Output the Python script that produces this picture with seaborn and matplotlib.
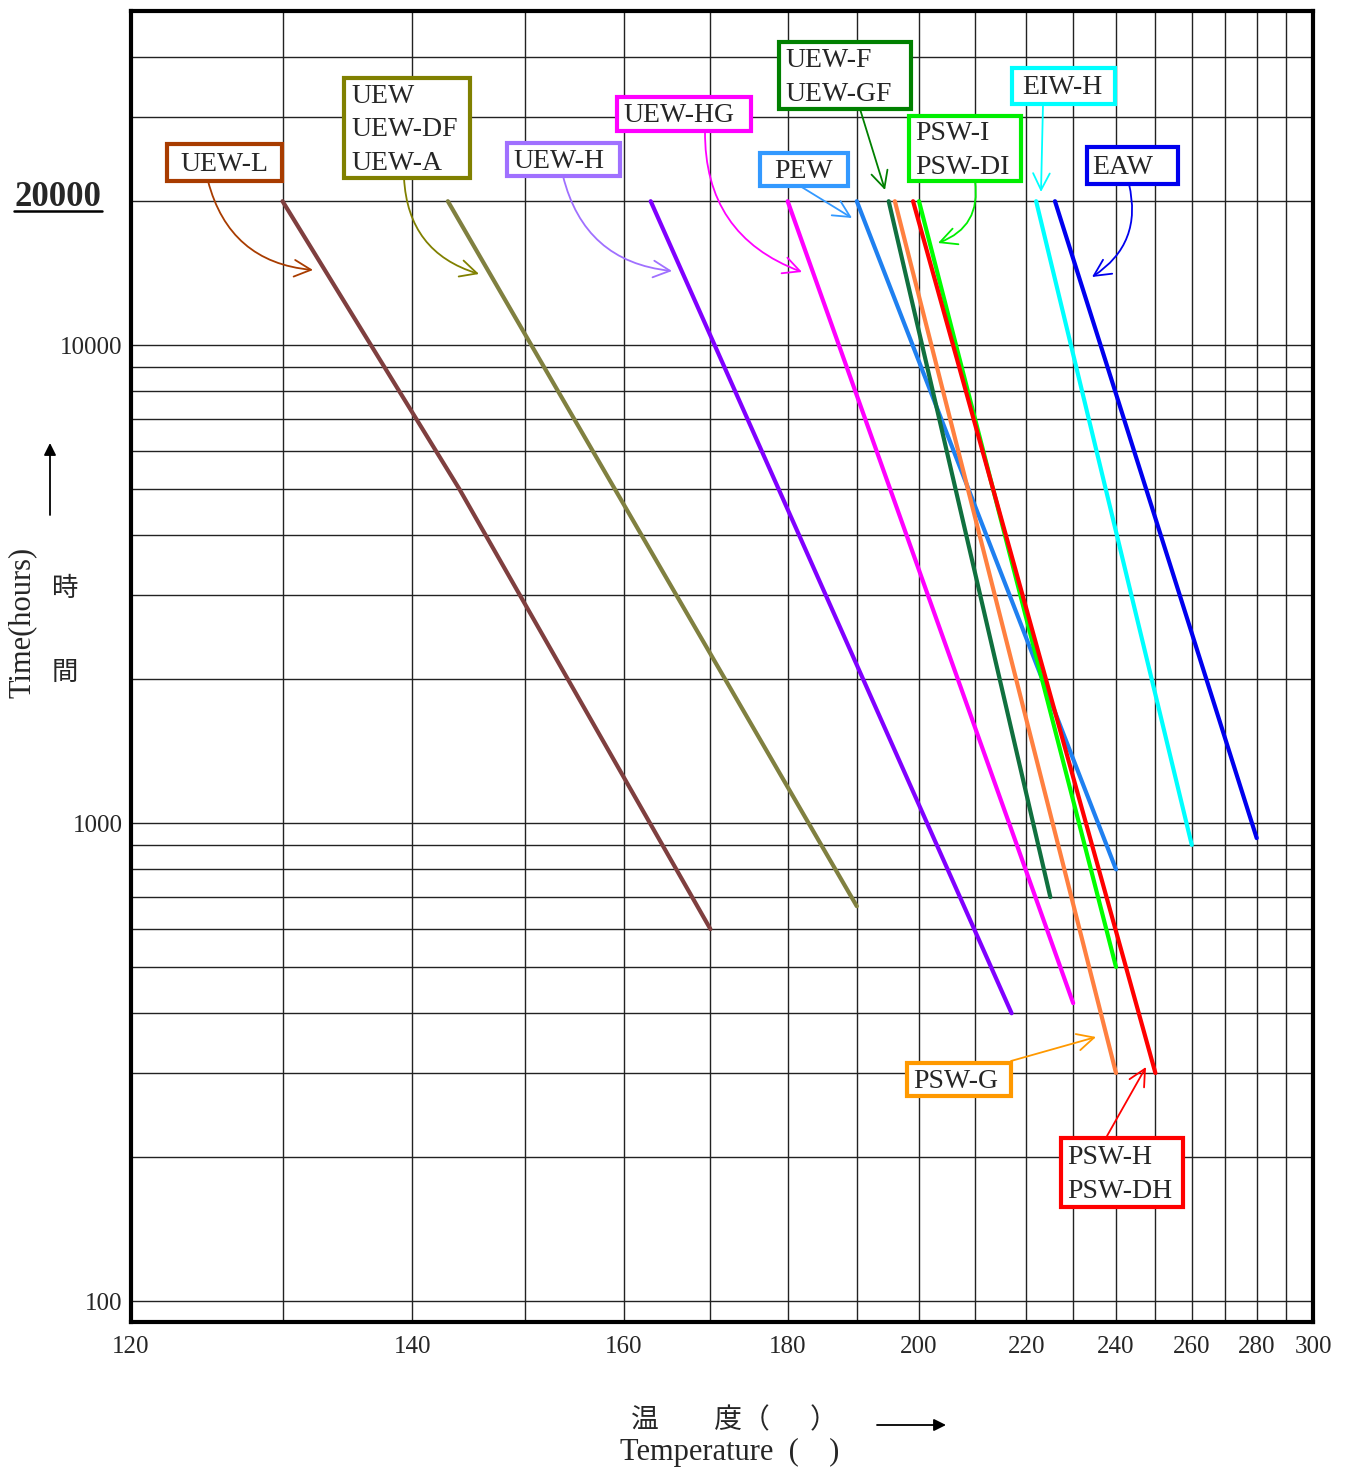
import numpy as np
import pandas as pd
import matplotlib
matplotlib.use("Agg")
import matplotlib.pyplot as plt
from matplotlib.patches import Rectangle
from matplotlib.lines import Line2D
from matplotlib.ticker import FixedLocator, NullFormatter
import seaborn as sns

# ---- data: temperature (deg C) vs. thermal life (hours) ----
grades = ["UEW-L", "UEW", "UEW-H", "UEW-HG", "PEW", "UEW-F",
          "PSW-G", "PSW-I", "PSW-H", "EIW-H", "EAW"]

uew_l_temp = [130, 144, 170]
uew_l_hours = [20000, 5000, 600]
uew_temp = [143, 190]
uew_hours = [20000, 670]
uew_h_temp = [163, 217]
uew_h_hours = [20000, 400]
uew_hg_temp = [180, 230]
uew_hg_hours = [20000, 420]
pew_temp = [190, 240]
pew_hours = [20000, 800]
uew_f_temp = [195, 225]
uew_f_hours = [20000, 700]
psw_g_temp = [196, 240]
psw_g_hours = [20000, 300]
psw_i_temp = [200, 240]
psw_i_hours = [20000, 500]
psw_h_temp = [199, 250]
psw_h_hours = [20000, 300]
eiw_h_temp = [222, 260]
eiw_h_hours = [20000, 900]
eaw_temp = [226, 280]
eaw_hours = [20000, 930]

x_ticks = [120, 140, 160, 180, 200, 220, 240, 260, 280, 300]
x_minor = [130, 150, 170, 190, 210, 230, 250, 270, 290]
y_ticks = [100, 1000, 10000]
y_minor = [200, 300, 400, 500, 600, 700, 800, 900,
           2000, 3000, 4000, 5000, 6000, 7000, 8000, 9000,
           20000, 30000, 40000]

line_colors = {
    "UEW-L": "#7f3f3f", "UEW": "#808040", "UEW-H": "#8000ff",
    "UEW-HG": "#ff00ff", "PEW": "#1f80f0", "UEW-F": "#10703f",
    "PSW-G": "#ff8040", "PSW-I": "#00ff00", "PSW-H": "#ff0000",
    "EIW-H": "#00ffff", "EAW": "#0000ee",
}

series = {
    "UEW-L": (uew_l_temp, uew_l_hours), "UEW": (uew_temp, uew_hours),
    "UEW-H": (uew_h_temp, uew_h_hours), "UEW-HG": (uew_hg_temp, uew_hg_hours),
    "PEW": (pew_temp, pew_hours), "UEW-F": (uew_f_temp, uew_f_hours),
    "PSW-G": (psw_g_temp, psw_g_hours), "PSW-I": (psw_i_temp, psw_i_hours),
    "PSW-H": (psw_h_temp, psw_h_hours), "EIW-H": (eiw_h_temp, eiw_h_hours),
    "EAW": (eaw_temp, eaw_hours),
}
df = pd.concat([pd.DataFrame({"temp": t, "hours": h, "grade": g})
                for g, (t, h) in series.items()], ignore_index=True)

sns.set_style("white")
plt.rcParams['font.family'] = ['Liberation Serif', 'DejaVu Serif']
SERIF = ['Liberation Serif', 'DejaVu Serif']
CJK = ['Noto Sans CJK JP', 'DejaVu Sans']

W, H = 1347, 1467
fig = plt.figure(figsize=(W / 100, H / 100), dpi=100)
ax = fig.add_axes([131 / W, 1 - 1322 / H, (1313 - 131) / W, (1322 - 11) / H])


def fxy(px, py):
    return px / W, 1 - py / H


# x axis: reciprocal temperature scale, y axis: log hours
ax.set_xscale('function', functions=(lambda t: -1.0 / np.asarray(t, float),
                                     lambda u: -1.0 / np.asarray(u, float)))
ax.set_yscale('log')
ax.set_xlim(120, 300)
ax.set_ylim(90.4, 50000)

sns.lineplot(data=df, x="temp", y="hours", hue="grade", hue_order=grades,
             palette=line_colors, estimator=None, sort=False, linewidth=3,
             legend=False, ax=ax, zorder=3)

ax.xaxis.set_major_locator(FixedLocator(x_ticks))
ax.xaxis.set_minor_locator(FixedLocator(x_minor))
ax.xaxis.set_minor_formatter(NullFormatter())
ax.set_xticklabels([str(v) for v in x_ticks])
ax.yaxis.set_major_locator(FixedLocator(y_ticks))
ax.yaxis.set_minor_locator(FixedLocator(y_minor))
ax.yaxis.set_minor_formatter(NullFormatter())
ax.set_yticklabels([str(v) for v in y_ticks])
ax.grid(True, which='both', color='#222222', linewidth=1.0)
ax.tick_params(which='both', direction='out', length=4, width=1, color='black')
ax.tick_params(axis='x', labelsize=18, pad=6)
ax.tick_params(axis='y', labelsize=18, pad=2)
ax.set_xlabel("")
ax.set_ylabel("")
for sp in ax.spines.values():
    sp.set_visible(True)
    sp.set_color('black')
    sp.set_linewidth(3)

# ---- label boxes with arrows ----
boxes = [
    # name, box (x0, y0, x1, y1), lines, text x, colour, arrow start, arrow end, rad
    ("UEW-L", (167, 144, 282, 181), "UEW-L", 180, "#a83c00", (208, 181), (313, 270), 0.35),
    ("UEW", (344, 78, 470, 178), "UEW\nUEW-DF\nUEW-A", 351, "#808000", (404, 178), (479, 274), 0.35),
    ("UEW-H", (507, 143, 620, 176), "UEW-H", 513, "#a070ff", (563, 176), (672, 271), 0.35),
    ("UEW-HG", (617, 97, 751, 131), "UEW-HG", 623, "#ff00ff", (705, 131), (802, 272), 0.35),
    ("PEW", (760, 153, 848, 186), "PEW", 774, "#3399ff", (800, 186), (852, 218), 0.0),
    ("UEW-F", (779, 42, 911, 109), "UEW-F\nUEW-GF", 785, "#008000", (860, 109), (885, 190), 0.0),
    ("PSW-I", (909, 116, 1021, 181), "PSW-I\nPSW-DI", 915, "#00ee00", (975, 181), (938, 243), -0.4),
    ("EIW-H", (1012, 68, 1115, 104), "EIW-H", 1022, "#00ffff", (1043, 104), (1041, 192), 0.0),
    ("EAW", (1087, 147, 1178, 184), "EAW", 1092, "#0000ee", (1129, 184), (1092, 277), -0.35),
    ("PSW-G", (907, 1063, 1011, 1096), "PSW-G", 913, "#ff9900", (1011, 1061), (1096, 1037), 0.0),
    ("PSW-H", (1061, 1138, 1183, 1207), "PSW-H\nPSW-DH", 1067, "#ff0000", (1107, 1136), (1146, 1067), 0.0),
]
for name, (x0, y0, x1, y1), txt, tx, col, a0, a1, rad in boxes:
    bx, by = fxy(x0, y1)
    fig.add_artist(Rectangle((bx, by), (x1 - x0) / W, (y1 - y0) / H,
                             transform=fig.transFigure, facecolor='white',
                             edgecolor=col, linewidth=3, zorder=5))
    fig.text(tx / W, 1 - ((y0 + y1) / 2 + 2) / H, txt, ha='left', va='center',
             fontsize=20, family=SERIF, linespacing=1.45, zorder=6)
    ax.annotate('', xy=fxy(*a1), xytext=fxy(*a0), xycoords='figure fraction',
                textcoords='figure fraction', zorder=6,
                arrowprops=dict(arrowstyle='->', color=col, lw=1.3,
                                shrinkA=0, shrinkB=0, mutation_scale=30,
                                connectionstyle=f'arc3,rad={rad}'))

# ---- axis titles ----
fig.text(*fxy(58, 197), "20000", ha='center', va='center', fontsize=25,
         fontweight='bold', family=SERIF)
fig.add_artist(Line2D([14 / W, 102 / W], [1 - 211 / H, 1 - 211 / H],
                      transform=fig.transFigure, color='black', lw=1.8))

fig.text(*fxy(22, 622), "Time(hours)", rotation=90, ha='center', va='center',
         fontsize=22, family=SERIF)
fig.text(*fxy(65, 588), "時", ha='center', va='center', fontsize=19, family=CJK)
fig.text(*fxy(65, 672), "間", ha='center', va='center', fontsize=19, family=CJK)
ax.annotate('', xy=fxy(50, 443), xytext=fxy(50, 515), xycoords='figure fraction',
            textcoords='figure fraction',
            arrowprops=dict(arrowstyle='-|>', color='black', lw=1.3,
                            shrinkA=0, shrinkB=0, mutation_scale=18))

fig.text(*fxy(631, 1420), "温　　度（　  ）", ha='left', va='center',
         fontsize=20, family=CJK)
fig.text(*fxy(620, 1452), "Temperature  (    )", ha='left', va='center',
         fontsize=22, family=SERIF)
ax.annotate('', xy=fxy(946, 1425), xytext=fxy(877, 1425), xycoords='figure fraction',
            textcoords='figure fraction',
            arrowprops=dict(arrowstyle='-|>', color='black', lw=1.3,
                            shrinkA=0, shrinkB=0, mutation_scale=18))

fig.savefig("out.png", dpi=100)
